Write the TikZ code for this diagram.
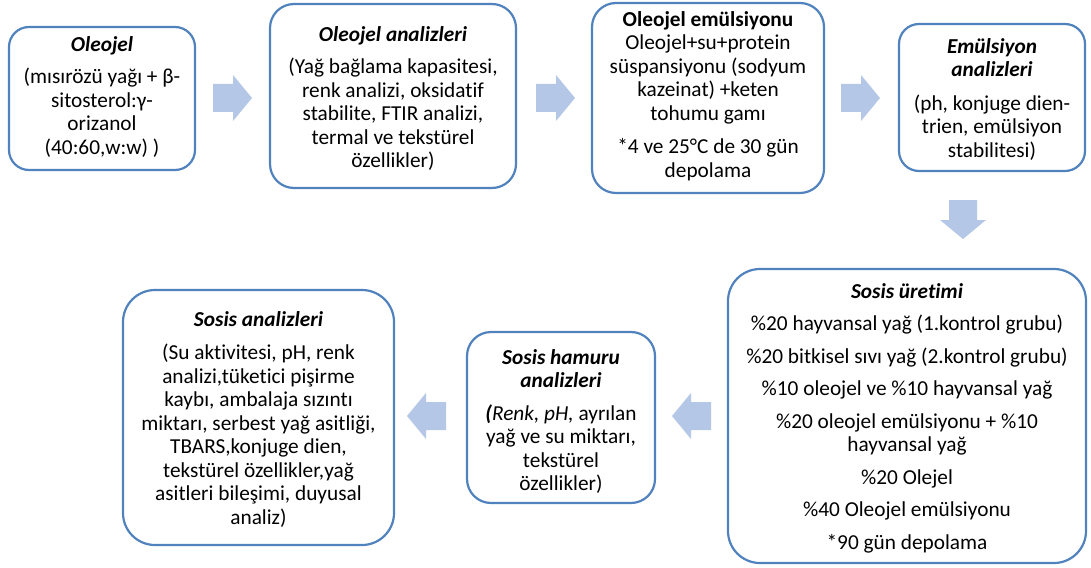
\documentclass[tikz,border=0pt]{standalone}
\usepackage{fontspec}
\setmainfont{Carlito}[Ligatures=NoCommon]
\newcommand{\bodyfs}{\fontsize{21.3}{23.5}\selectfont}
\newcommand{\bi}[1]{\textbf{\textit{#1}}}
\definecolor{boxline}{RGB}{80,130,190}
\definecolor{arrowfill}{RGB}{180,199,231}
\tikzset{
  box/.style={draw=boxline, line width=2.2pt, inner sep=0pt, fill=white},
  txt/.style={align=center, inner sep=0pt, font=\bodyfs, anchor=north, text=black},
  blockarrow/.pic={\fill[arrowfill] (-19.5,-14) -- (0.5,-14) -- (0.5,-23) -- (19.5,0) -- (0.5,23) -- (0.5,14) -- (-19.5,14) -- cycle;}
}
\begin{document}
\begin{tikzpicture}[x=1pt,y=-1pt]
\fill[white] (0,0) rectangle (1091,567);
\useasboundingbox (0,0) rectangle (1091,567);
% boxes
\node[box, minimum width=186pt, minimum height=143pt, rounded corners=20pt] (b1) at (102,98.5) {};
\node[box, minimum width=246pt, minimum height=184pt, rounded corners=24pt] (b2) at (393,96) {};
\node[box, minimum width=232pt, minimum height=190pt, rounded corners=24pt] (b3) at (708,98) {};
\node[box, minimum width=186pt, minimum height=147pt, rounded corners=20pt] (b4) at (992,97.5) {};
\node[box, minimum width=358pt, minimum height=294pt, rounded corners=32pt] (b5) at (907,416) {};
\node[box, minimum width=188pt, minimum height=171pt, rounded corners=24pt] (b6) at (561,417.5) {};
\node[box, minimum width=271pt, minimum height=255pt, rounded corners=32pt] (b7) at (258.5,417.5) {};
% texts
\node[txt] (t1) at (102,34.5) {\strut\bi{Oleojel}\\[9pt]
 (mısırözü yağı + β-\\sitosterol:γ-\\orizanol\\(40:60,w:w) )};
\node[txt] (t2) at (393,24.5) {\strut\bi{Oleojel analizleri}\\[9pt]
 (Yağ bağlama kapasitesi,\\renk analizi, oksidatif\\stabilite, FTIR analizi,\\termal ve tekstürel\\özellikler)};
\node[txt] (t3) at (708,9.5) {\strut\textbf{Oleojel emülsiyonu}\\Oleojel+su+protein\\süspansiyonu (sodyum\\kazeinat) +keten\\tohumu gamı\\[10pt]
 *4 ve 25°C de 30 gün\\depolama};
\node[txt] (t4) at (992,36.5) {\strut\bi{Emülsiyon}\\\bi{analizleri}\\[10pt]
 (ph, konjuge dien-\\trien, emülsiyon\\stabilitesi)};
\node[txt] (t5) at (907,281.5) {\strut\bi{Sosis üretimi}\\[9pt]
 \%20 hayvansal yağ (1.kontrol grubu)\\[9pt]
 \%20 bitkisel sıvı yağ (2.kontrol grubu)\\[9pt]
 \%10 oleojel ve \%10 hayvansal yağ\\[9pt]
 \%20 oleojel emülsiyonu + \%10\\hayvansal yağ\\[9pt]
 \%20 Olejel\\[9pt]
 \%40 Oleojel emülsiyonu\\[9pt]
 *90 gün depolama};
\node[txt] (t6) at (561,347.5) {\strut\bi{Sosis hamuru}\\\bi{analizleri}\\[9pt]
 \bi{(}\textit{Renk, pH,} ayrılan\\yağ ve su miktarı,\\tekstürel\\özellikler)};
\node[txt] (t7) at (258.5,309.5) {\strut\bi{Sosis analizleri}\\[10pt]
 (Su aktivitesi, pH, renk\\analizi,tüketici pişirme\\kaybı, ambalaja sızıntı\\miktarı, serbest yağ asitliği,\\TBARS,konjuge dien,\\tekstürel özellikler,yağ\\asitleri bileşimi, duyusal\\analiz)};
% block arrows
\pic at (232.5,98) {blockarrow};
\pic at (555.5,98) {blockarrow};
\pic at (860.5,98) {blockarrow};
\pic[rotate=-90] at (963,219.5) {blockarrow};
\pic[rotate=180] at (691.5,416) {blockarrow};
\pic[rotate=180] at (426.5,416) {blockarrow};
\end{tikzpicture}
\end{document}
